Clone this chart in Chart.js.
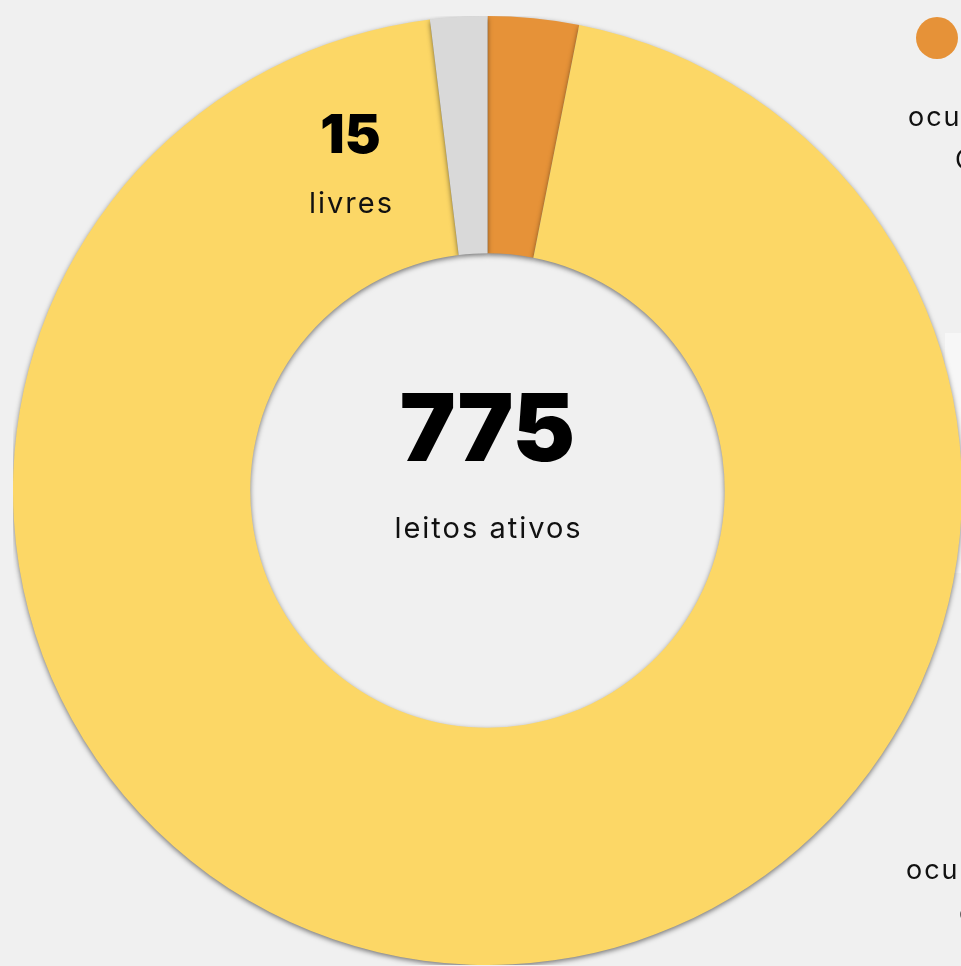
<!DOCTYPE html>
<html><head><meta charset="utf-8">
<script src="https://cdn.jsdelivr.net/npm/chart.js@4/dist/chart.umd.min.js"></script>
<style>
html,body{margin:0;padding:0;background:#f0f0f0;width:961px;height:966px;overflow:hidden;position:relative;font-family:Inter,"Noto Sans",sans-serif;}
#panel{position:absolute;left:945px;top:333px;width:100px;height:240px;background:#f7f7f7;}
#wrap{position:absolute;left:13px;top:16px;width:949px;height:949px;}
.side{position:absolute;color:#111;font-size:27px;white-space:nowrap;line-height:34px;font-weight:400;letter-spacing:2px;}
.dot{position:absolute;left:916px;top:17px;width:42px;height:42px;border-radius:50%;background:#e69238;}
</style></head>
<body>
<div id="panel"></div>
<div id="wrap"><canvas id="c"></canvas></div>
<div class="dot"></div>
<div class="side" style="left:908px;top:100px;">ocupados por</div>
<div class="side" style="left:955px;top:143px;">COVID</div>
<div class="side" style="left:906px;top:853px;">ocupados por</div>
<div class="side" style="left:959px;top:896px;">outras causas</div>
<script>
const categories = ["ocupados COVID", "ocupados outras causas", "livres"];
const values = [24, 736, 15];
const colors = ["#e69238", "#fcd766", "#d9d9d9"];
const centerLabel = "leitos ativos";
const freeLabel = "livres";

const shadow = {
  id: 'shadow',
  beforeDatasetsDraw(c){ const x=c.ctx; x.save(); x.shadowColor='rgba(0,0,0,0.5)'; x.shadowBlur=5; x.shadowOffsetY=2; },
  afterDatasetsDraw(c){ c.ctx.restore(); }
};
const labels = {
  id: 'labels',
  afterDraw(c){
    const x = c.ctx;
    const arc = c.getDatasetMeta(0).data[0];
    const cx = arc.x, cy = arc.y;
    const total = values.reduce((a,b)=>a+b,0);
    x.save();
    x.fillStyle = '#000';
    x.textAlign = 'center';
    x.textBaseline = 'alphabetic';
    x.letterSpacing = '0px';
    x.font = '900 94px Inter, "Noto Sans", sans-serif';
    x.fillText(String(total), cx, cy - 30);
    x.font = '900 54px Inter, "Noto Sans", sans-serif';
    x.fillText(String(values[2]), cx - 137, cy - 338);
    x.fillStyle = '#111';
    x.letterSpacing = '2px';
    x.font = '400 29px Inter, "Noto Sans", sans-serif';
    x.fillText(centerLabel, cx + 1, cy + 47);
    x.fillText(freeLabel, cx - 136, cy - 278);
    x.restore();
  }
};

new Chart(document.getElementById('c'), {
  type: 'doughnut',
  data: { labels: categories, datasets: [{ data: values, backgroundColor: colors, borderWidth: 0, hoverOffset: 0 }] },
  options: {
    responsive: true, maintainAspectRatio: false, animation: false,
    cutout: '50%', rotation: 0,
    layout: { padding: 0 },
    plugins: { legend: { display: false }, tooltip: { enabled: false } }
  },
  plugins: [shadow, labels]
});
</script>
</body></html>
